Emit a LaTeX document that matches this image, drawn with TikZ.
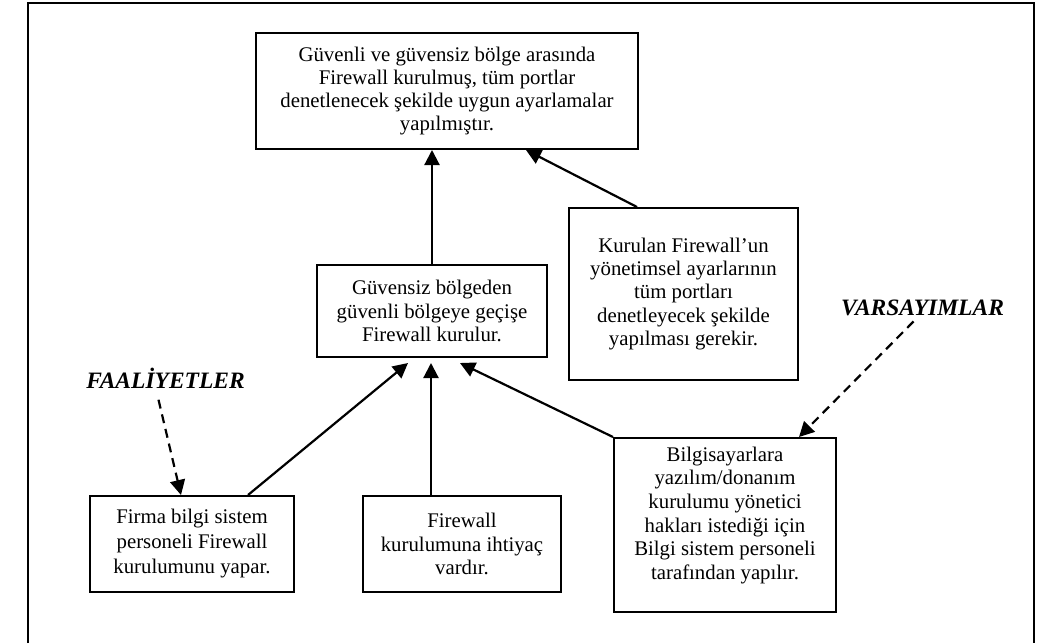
\documentclass[tikz,border=0pt]{standalone}
\usepackage{fontspec}
\setmainfont{Liberation Serif}
\usetikzlibrary{arrows.meta,calc}
\begin{document}
\begin{tikzpicture}[x=1pt,y=-1pt,
  box/.style={draw,line width=2pt,align=center,inner sep=0pt,
              font=\fontsize{20.8}{23.3}\selectfont},
  link/.style={line width=2.2pt,-{Triangle[length=15pt,width=15pt]}},
  hint/.style={line width=2.2pt,dash pattern=on 9pt off 6pt,
               -{Triangle[length=15pt,width=15pt]}},
  tag/.style={font=\fontsize{23.5}{26}\selectfont\bfseries\itshape}]
\useasboundingbox (0,0) rectangle (1049,643);
% outer frame
\draw[line width=2.2pt] (28,643) -- (28,3) -- (1034,3) -- (1034,643);

% boxes
\node[box,minimum width=382pt,minimum height=116pt] (top) at (447,91)
  {Güvenli ve güvensiz bölge arasında\\Firewall kurulmuş, tüm portlar\\
   denetlenecek şekilde uygun ayarlamalar\\yapılmıştır.};
\node[box,minimum width=230pt,minimum height=92pt] (mid) at (432,311)
  {Güvensiz bölgeden\\güvenli bölgeye geçişe\\Firewall kurulur.};
\node[box,minimum width=229pt,minimum height=172pt] (kur) at (683.5,294)
  {Kurulan Firewall’un\\yönetimsel ayarlarının\\tüm portları\\
   denetleyecek şekilde\\yapılması gerekir.};
\node[box,minimum width=204pt,minimum height=96pt,
      font=\fontsize{20.8}{25}\selectfont] (firma) at (192,544)
  {Firma bilgi sistem\\personeli Firewall\\kurulumunu yapar.};
\node[box,minimum width=198pt,minimum height=96pt] (fw) at (462,544)
  {Firewall\\kurulumuna ihtiyaç\\vardır.};
\node[box,minimum width=222pt,minimum height=174pt,
      font=\fontsize{20.8}{23.7}\selectfont] (bilgi) at (725,525)
  {Bilgisayarlara\\yazılım/donanım\\kurulumu yönetici\\hakları istediği için\\
   Bilgi sistem personeli\\tarafından yapılır.\\\mbox{}};

% labels
\node[tag] (faal) at (165.5,378) {FAALİYETLER};
\node[tag] (vars) at (922.5,308) {VARSAYIMLAR};

% connectors
\draw[link] (mid.north) -- (mid.north |- top.south);
\draw[link] ($(kur.north west)+(69,0)$) -- ($(top.south west)+(271,0)$);
\draw[link] ($(firma.north west)+(159,0)$) -- ($(mid.south)+(-24,5)$);
\draw[link] ($(fw.north west)+(69,0)$) -- ($(fw.north west |- mid.south)+(69,5)$);
\draw[link] (bilgi.north west) -- ($(mid.south)+(28,5)$);

\draw[hint] ($(faal.south)+(-7,8)$) -- ($(firma.north west)+(92,0)$);
\draw[hint] ($(vars.south)+(-9,2)$) -- ($(bilgi.north west)+(186,0)$);
\end{tikzpicture}
\end{document}
